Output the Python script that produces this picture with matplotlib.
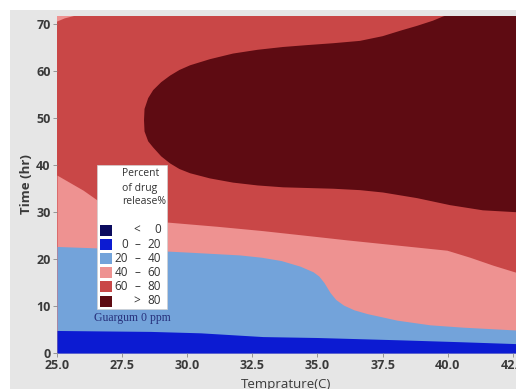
import numpy as np
import matplotlib
matplotlib.use('Agg')
import matplotlib.pyplot as plt
from matplotlib.patches import Rectangle

plt.rcParams['font.family'] = ['Open Sans', 'DejaVu Sans']

# contour levels (percent of drug release) and band colours
levels = [0, 20, 40, 60, 80]
band_colors = ['#0b0b5e', '#0c1bd2', '#73a3da', '#ee9291', '#c94747', '#5e0b12']

# 20 % contour
temp_20 = [25.0, 28.6, 30.5, 32.9, 35.0, 38.2, 40.5, 42.62]
time_20 = [4.8, 4.6, 4.3, 3.5, 3.3, 2.8, 2.4, 2.0]

# 40 % contour
temp_40 = [25.0, 27.5, 30.0, 32.0, 32.85, 33.6, 34.33, 34.83, 35.05, 35.25,
           35.48, 35.7, 36.0, 36.4, 36.9, 38.05, 39.32, 40.59, 42.62]
time_40 = [22.7, 22.2, 21.5, 20.9, 20.4, 19.7, 18.5, 17.3, 16.4, 15.0,
           12.9, 11.4, 10.2, 9.2, 8.4, 7.0, 6.0, 5.5, 4.9]

# 60 % contour (main branch + small piece in the upper-left corner)
temp_60 = [25.0, 26.0, 26.54, 27.5, 28.3, 29.22, 31.14, 32.85, 34.83, 36.13,
           38.05, 39.97, 40.85, 41.74, 42.62]
time_60 = [37.9, 34.7, 32.6, 30.3, 29.0, 27.9, 27.0, 26.1, 24.9, 24.1,
           23.0, 21.9, 20.4, 18.7, 17.2]
temp_60_corner = [25.0, 25.3, 25.8]
time_60_corner = [70.6, 71.3, 72.0]

# 80 % contour (closed region, upper and lower edges)
temp_80_top = [28.34, 28.36, 28.5, 28.69, 29.0, 29.34, 29.7, 30.11, 30.87, 31.76,
               32.7, 33.68, 34.6, 35.6, 36.63, 37.5, 38.2, 38.82, 39.43, 39.82,
               40.3, 42.62]
time_80_top = [49.6, 52.0, 54.3, 56.0, 57.7, 59.1, 60.3, 61.3, 62.6, 63.8,
               64.6, 65.2, 65.6, 66.0, 66.5, 67.5, 68.7, 69.7, 70.8, 71.7,
               72.5, 74.0]
temp_80_bot = [28.34, 28.36, 28.5, 28.69, 29.0, 29.34, 29.7, 30.11, 30.87, 31.76,
               32.7, 33.68, 35.6, 36.63, 37.51, 38.82, 40.09, 41.35, 42.62]
time_80_bot = [49.6, 47.2, 45.1, 43.8, 41.9, 40.4, 39.2, 38.3, 37.2, 36.3,
               35.7, 35.3, 35.0, 34.7, 34.2, 33.0, 31.5, 30.4, 30.0]

x_ticks = [25.0, 27.5, 30.0, 32.5, 35.0, 37.5, 40.0, 42.5]
y_ticks = [0, 10, 20, 30, 40, 50, 60, 70]
t_min, t_max = 25.0, 42.62
y_top = 71.8

W, H = 516, 389
fig = plt.figure(figsize=(W / 100, H / 100), dpi=100, facecolor='white')
fig.patches.append(Rectangle((10 / W, 0), 1, 1 - 10 / H, transform=fig.transFigure,
                             facecolor='#e6e6e6', edgecolor='none', zorder=-10))

ax = fig.add_axes([57 / W, 36 / H, (W - 57) / W, (353 - 16) / H])

# bands painted from the top level down
ax.fill_between(temp_60, 0, y_top, color=band_colors[4], lw=0)
ax.fill_between(temp_60, 0, time_60, color=band_colors[3], lw=0)
ax.fill_between(temp_40, 0, time_40, color=band_colors[2], lw=0)
ax.fill_between(temp_20, 0, time_20, color=band_colors[1], lw=0)
ax.fill(temp_60_corner + [temp_60_corner[0]], time_60_corner + [y_top + 1],
        color=band_colors[3], lw=0)
ax.fill(temp_80_top + temp_80_bot[::-1], time_80_top + time_80_bot[::-1],
        color=band_colors[5], lw=0)

ax.set_xlim(t_min, t_max)
ax.set_ylim(0, y_top)
ax.set_xticks(x_ticks)
ax.set_xticklabels([f'{v:.1f}' for v in x_ticks])
ax.set_yticks(y_ticks)
for s in ax.spines.values():
    s.set_visible(False)
ax.tick_params(axis='both', length=3, width=0.6, color='#888888', pad=1.5,
               labelsize=9, labelcolor='#3a3a3a')
for lab in ax.get_xticklabels() + ax.get_yticklabels():
    lab.set_fontweight('bold')

ax.set_xlabel('Temprature(C)', fontsize=9.5, color='#3a3a3a', labelpad=4)
ax.set_ylabel('Time (hr)', fontsize=9.5, color='#3a3a3a', fontweight='bold', labelpad=2)


def px(x, y):
    return x / W, 1 - y / H


# legend box drawn in figure pixels
fig.patches.append(Rectangle(px(97, 309), 70 / W, 144 / H, transform=fig.transFigure,
                             facecolor='white', edgecolor='#d0d0d0', lw=0.5, zorder=5))
for i, line in enumerate(['Percent', 'of drug', 'release%']):
    fig.text(*px(122, 174 + 14 * i), line, fontsize=7.5, color='#333333',
             ha='left', va='center', zorder=6)

rows = [('', '<', str(levels[0]))]
rows += [(str(a), '–', str(b)) for a, b in zip(levels[:-1], levels[1:])]
rows += [('', '>', str(levels[-1]))]
for i, (lo, mid, hi) in enumerate(rows):
    yc = 230 + 14.2 * i
    fig.patches.append(Rectangle(px(100, yc + 5.5), 12 / W, 11 / H,
                                 transform=fig.transFigure, facecolor=band_colors[i],
                                 edgecolor='none', zorder=6))
    fig.text(*px(128, yc), lo, fontsize=8.5, color='#333333', ha='right', va='center', zorder=7)
    fig.text(*px(137, yc), mid, fontsize=8.5, color='#333333', ha='center', va='center', zorder=7)
    fig.text(*px(161, yc), hi, fontsize=8.5, color='#333333', ha='right', va='center', zorder=7)

fig.text(*px(94, 318), 'Guargum 0 ppm', fontsize=8.5, color='#27317c',
         family='Liberation Serif', ha='left', va='center', zorder=7)

fig.savefig('out.png', dpi=100, facecolor=fig.get_facecolor())
